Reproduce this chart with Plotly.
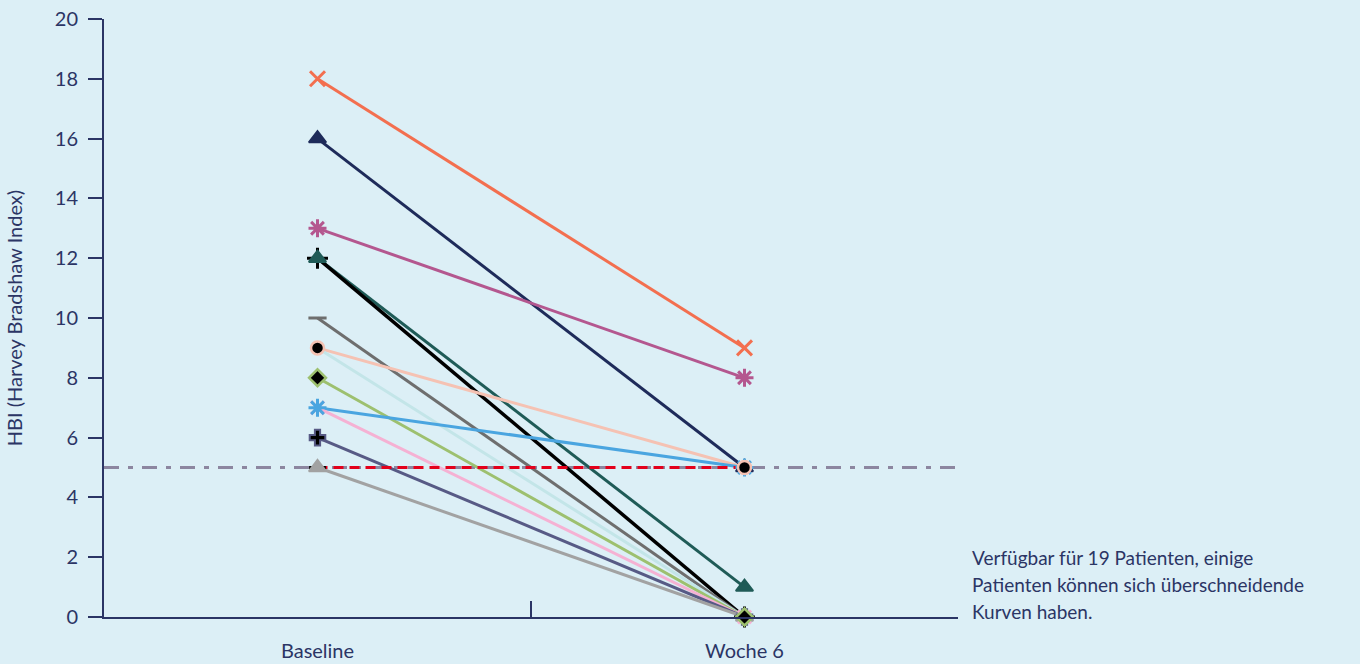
import plotly.graph_objects as go

timepoints = ["Baseline", "Woche 6"]
baseline = [18, 16, 13, 12, 12, 10, 9, 9, 8, 7, 7, 6, 5, 5]
week6 = [9, 5, 8, 1, 0, 0, 5, 0, 0, 5, 0, 0, 0, 5]
line_colors = ["#f36f4f", "#1e2b5a", "#b4578f", "#1f5b57", "#000000", "#6e6e6e",
               "#f5c2b3", "#c3e5e8", "#9dc06f", "#4aa5e0", "#f5b1d3", "#575a85",
               "#a2a2a2", "#e3001b"]
line_widths = [3, 3, 3, 3, 3.5, 3, 3, 3, 3, 3, 3, 3, 3, 3]
line_dash = ["solid"] * 13 + ["10px,6px"]
marker_symbols = ["x-thin-open", "triangle-up", "asterisk-open", "triangle-up", "cross-thin-open",
                  "line-ew-open", "circle", "circle", "diamond", "asterisk-open", "x-thin-open",
                  "cross", "triangle-up", "line-ew-open"]
marker_fill = ["#f36f4f", "#1e2b5a", "#b4578f", "#1f5b57", "#000000", "#6e6e6e",
               "#000000", "#c3e5e8", "#000000", "#4aa5e0", "#f5b1d3", "#000000",
               "#a2a2a2", "#000000"]
marker_line = ["#f36f4f", "#1e2b5a", "#b4578f", "#1f5b57", "#000000", "#6e6e6e",
               "#f5c2b3", "#c3e5e8", "#9dc06f", "#4aa5e0", "#f5b1d3", "#575a85",
               "#a2a2a2", "#000000"]
marker_line_w = [3, 2, 3, 2, 3, 3, 2.5, 2, 2.5, 3, 3, 2, 2, 3]
marker_sizes = [15, 15, 15, 15, 15, 13, 13, 6, 13, 15, 13, 13, 15, 12]
# order in which markers are layered (last on top)
marker_order = [4, 3, 0, 1, 2, 5, 7, 11, 13, 12, 10, 9, 6, 8]
threshold = 5
note_lines = ["Verfügbar für 19 Patienten, einige",
              "Patienten können sich überschneidende",
              "Kurven haben."]

navy = "#2b3565"
bg = "#dceff6"
fs = 20

fig = go.Figure()
for i in range(len(baseline)):
    fig.add_trace(go.Scatter(
        x=[0, 1], y=[baseline[i], week6[i]], mode="lines",
        line=dict(color=line_colors[i], width=line_widths[i], dash=line_dash[i]),
        showlegend=False, hoverinfo="skip"))
for i in marker_order:
    fig.add_trace(go.Scatter(
        x=[0, 1], y=[baseline[i], week6[i]], mode="markers", cliponaxis=False,
        marker=dict(symbol=marker_symbols[i], size=marker_sizes[i], color=marker_fill[i],
                    line=dict(color=marker_line[i], width=marker_line_w[i])),
        showlegend=False, hoverinfo="skip"))

fig.add_hline(y=threshold, line=dict(color="#8c86a0", width=3, dash="15px,9px,5px,9px"), layer="below")

n = len(note_lines)
for k, txt in enumerate(note_lines):
    fig.add_annotation(text=txt, xref="paper", yref="paper", x=1.0, y=0.0, xanchor="left",
                       yanchor="middle", align="left", showarrow=False,
                       xshift=12, yshift=6 + 27 * (n - 1 - k),
                       font=dict(size=19, color=navy, family="Lato"))

fig.update_layout(
    width=1360, height=664,
    paper_bgcolor=bg, plot_bgcolor=bg,
    margin=dict(l=104, r=402, t=19, b=47),
    font=dict(family="Lato", size=fs, color=navy),
    xaxis=dict(range=[-0.5, 1.5], tickvals=[0, 1], ticktext=timepoints, ticks="", automargin=False,
               showline=True, linecolor=navy, linewidth=2, showgrid=False, zeroline=False,
               ticklabelstandoff=15, tickfont=dict(size=fs, color=navy)),
    xaxis2=dict(range=[-0.5, 1.5], overlaying="x", side="bottom", tickvals=[0.5], ticks="inside",
                ticklen=16, tickwidth=2, tickcolor=navy, showticklabels=False, showgrid=False,
                zeroline=False, showline=False, automargin=False),
    yaxis=dict(range=[0, 20], dtick=2, ticks="outside", ticklen=14, tickwidth=2, tickcolor=navy,
               showline=True, linecolor=navy, linewidth=2, showgrid=False, zeroline=False,
               tickfont=dict(size=fs, color=navy), ticklabelstandoff=6, automargin=False,
               title=dict(text="HBI (Harvey Bradshaw Index)", font=dict(size=fs, color=navy), standoff=27)),
)
fig.add_trace(go.Scatter(x=[0.5], y=[None], xaxis="x2", showlegend=False, hoverinfo="skip"))

fig.write_html("out.html", config={"displayModeBar": False})
with open("out.html", "r", encoding="utf-8") as f:
    html = f.read()
html = html.replace("<head>", "<head><style>html,body{margin:0;padding:0;overflow:hidden;}</style>", 1)
with open("out.html", "w", encoding="utf-8") as f:
    f.write(html)
